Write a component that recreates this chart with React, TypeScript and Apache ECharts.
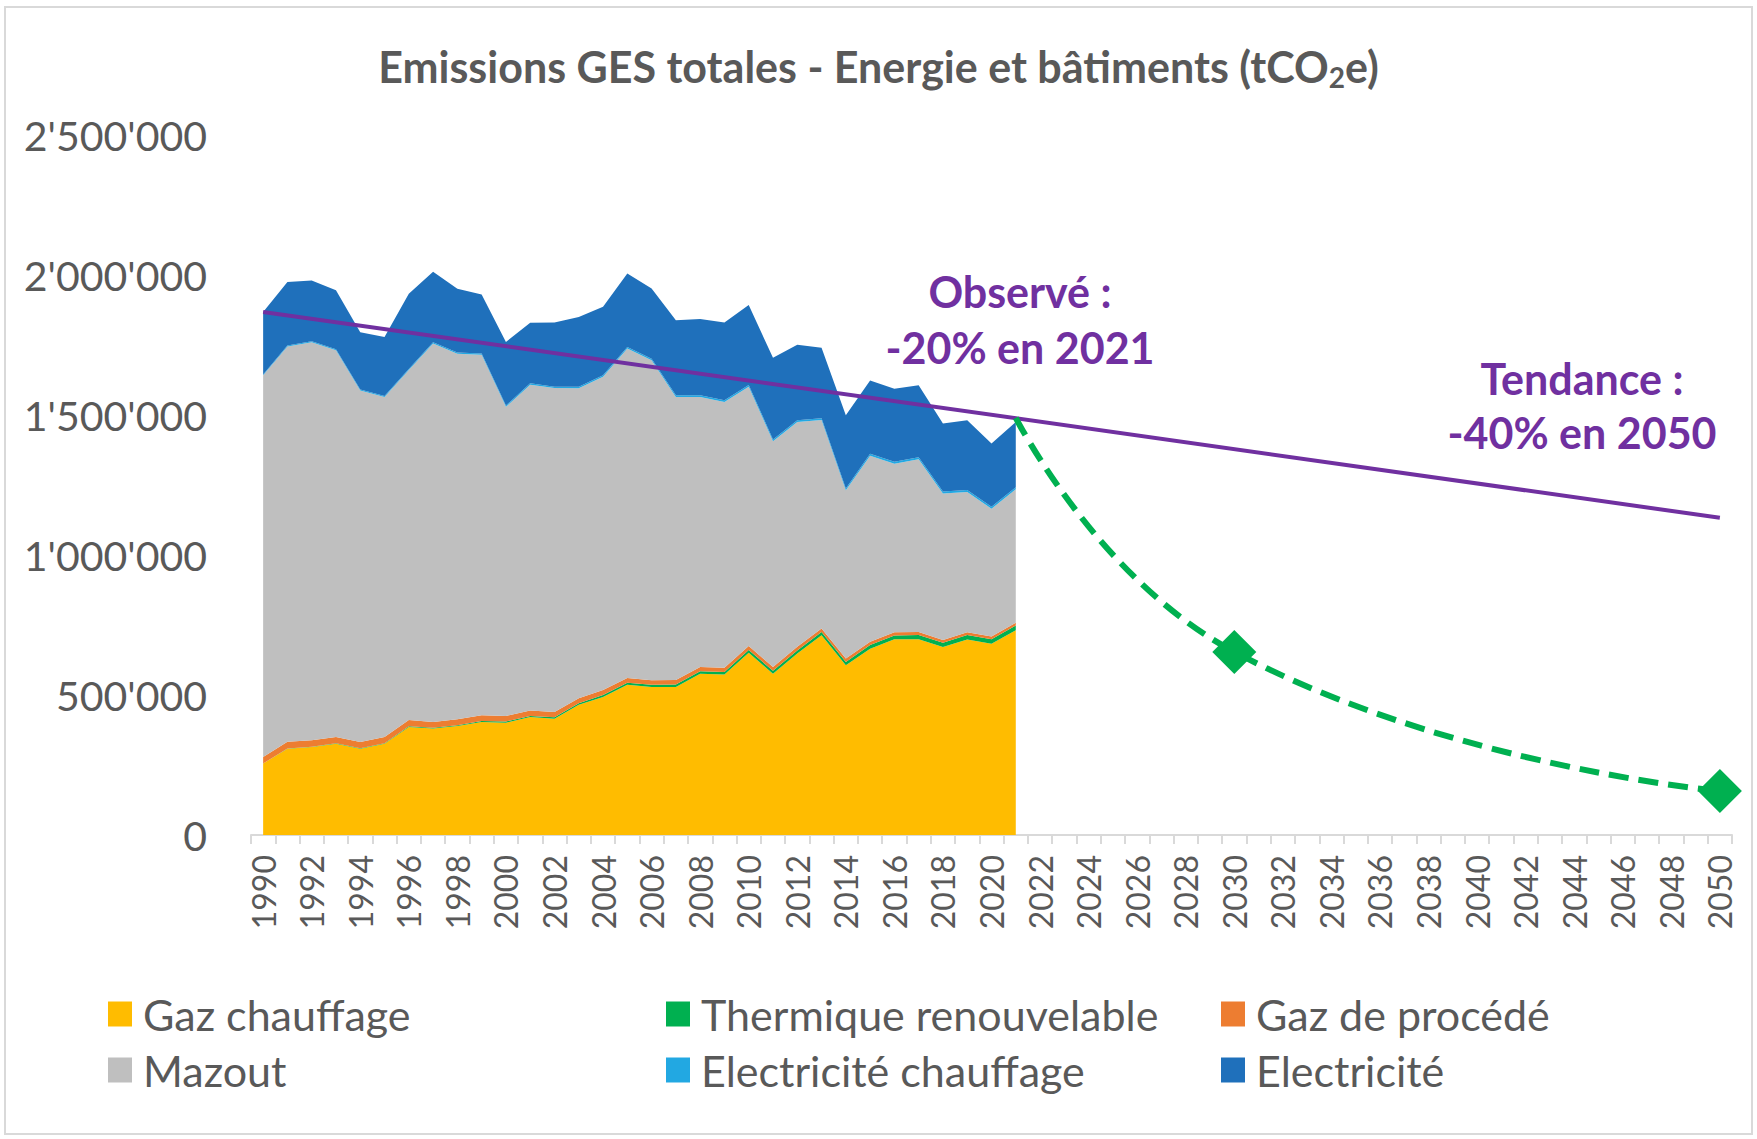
import React, { useEffect, useRef } from "react";
import * as echarts from "echarts";

const years = [
  "1990","1991","1992","1993","1994","1995","1996","1997","1998","1999",
  "2000","2001","2002","2003","2004","2005","2006","2007","2008","2009",
  "2010","2011","2012","2013","2014","2015","2016","2017","2018","2019",
  "2020","2021","2022","2023","2024","2025","2026","2027","2028","2029",
  "2030","2031","2032","2033","2034","2035","2036","2037","2038","2039",
  "2040","2041","2042","2043","2044","2045","2046","2047","2048","2049","2050",
];

// 1990 - 2021 (tCO2e)
const gazChauffage = [255000, 308000, 314000, 326000, 308000, 326000, 386000, 380000, 389000, 404000, 401000, 421000, 415000, 465000, 493000, 537000, 529000, 529000, 576000, 573000, 651000, 576000, 648000, 713000, 606000, 665000, 699000, 699000, 671000, 698000, 683000, 731000];
const thermiqueRenouvelable = [800, 900, 1200, 1400, 1700, 1900, 2400, 2600, 3100, 3400, 4100, 4300, 5200, 5800, 6600, 7100, 7400, 8200, 8600, 9300, 9700, 10400, 10900, 11800, 12100, 13200, 13900, 15100, 15400, 16200, 16300, 17200];
const gazProcede = [23000, 24000, 23000, 23000, 22000, 22000, 22000, 21000, 21000, 20000, 20000, 19000, 19000, 18000, 18000, 17000, 16000, 16000, 15000, 15000, 14000, 14000, 13000, 13000, 12000, 12000, 11000, 11000, 10000, 10000, 10000, 10000];
const mazout = [1363000, 1412000, 1422000, 1381000, 1256000, 1214000, 1250000, 1352000, 1306000, 1288000, 1104000, 1164000, 1157000, 1107000, 1119000, 1176000, 1143000, 1011000, 965000, 949000, 926000, 806000, 803000, 744000, 601000, 664000, 602000, 617000, 523000, 501000, 456000, 477000];
const electriciteChauffage = [3000, 3000, 3500, 3500, 3500, 4000, 4000, 4000, 4500, 4500, 4500, 5000, 5000, 5000, 5500, 5500, 5500, 6000, 6000, 6000, 6000, 6500, 6500, 6500, 6500, 7000, 7000, 7000, 7000, 7000, 7000, 7000];
const electricite = [223000, 227000, 216500, 210500, 204500, 211000, 269000, 252000, 227500, 210500, 227500, 216000, 229000, 249000, 244500, 262500, 250500, 268000, 272000, 278000, 286000, 291500, 269500, 251500, 261500, 262000, 261000, 257000, 243000, 249000, 226000, 233000];

const trendYears = ["1990", "2050"];
const trendValues = [1868000, 1133000];

const projectionYears = ["2021", "2030", "2050"];
const projectionValues = [1490000, 654000, 157000];

const yTicks = { min: 0, max: 2500000, interval: 500000 };

const GREY_TEXT = "#595959";
const FONT = "Lato";

const stackSeries = [
  { name: "Gaz chauffage", data: gazChauffage, color: "#FFBC00" },
  { name: "Thermique renouvelable", data: thermiqueRenouvelable, color: "#00B050" },
  { name: "Gaz de procédé", data: gazProcede, color: "#ED7D31" },
  { name: "Mazout", data: mazout, color: "#BFBFBF" },
  { name: "Electricité chauffage", data: electriciteChauffage, color: "#22A8E2" },
  { name: "Electricité", data: electricite, color: "#1F70BB" },
];

function fmt(v: number): string {
  return String(v).replace(/\B(?=(\d{3})+(?!\d))/g, "'");
}

export default function App() {
  const ref = useRef<HTMLDivElement>(null);

  useEffect(() => {
    if (!ref.current) return;
    const chart = echarts.init(ref.current, undefined, { renderer: "svg" });

    const legendCommon = {
      orient: "vertical" as const,
      icon: "rect",
      itemWidth: 24,
      itemHeight: 25,
      itemGap: 12,
      textStyle: { fontFamily: FONT, fontSize: 43, color: GREY_TEXT, lineHeight: 44, padding: [0, 0, 0, 6] },
      selectedMode: false,
    };

    const annoFont = `bold 43px ${FONT}`;

    const option: any = {
      animation: false,
      backgroundColor: "#ffffff",
      title: {
        text: "Emissions GES totales - Energie et bâtiments (tCO{sub|2}e)",
        left: "center",
        top: 36,
        textStyle: {
          fontFamily: FONT,
          fontSize: 43,
          fontWeight: "bold",
          color: GREY_TEXT,
          lineHeight: 50,
          rich: {
            sub: {
              fontFamily: FONT,
              fontSize: 28,
              fontWeight: "bold",
              color: GREY_TEXT,
              lineHeight: 22,
              verticalAlign: "bottom",
            },
          },
        },
      },
      legend: [
        { ...legendCommon, data: ["Gaz chauffage", "Mazout"], left: 103, top: 987 },
        { ...legendCommon, data: ["Thermique renouvelable", "Electricité chauffage"], left: 661, top: 987 },
        { ...legendCommon, data: ["Gaz de procédé", "Electricité"], left: 1216, top: 987 },
      ],
      grid: { left: 251, right: 25, top: 135, bottom: 304, containLabel: false },
      xAxis: {
        type: "category",
        data: years,
        boundaryGap: true,
        axisLine: { show: true, lineStyle: { color: "#D9D9D9", width: 2 } },
        axisTick: { show: true, interval: 0, length: 9, lineStyle: { color: "#D9D9D9", width: 2 } },
        axisLabel: {
          interval: 1,
          rotate: 90,
          margin: 20,
          fontFamily: FONT,
          fontSize: 32,
          color: GREY_TEXT,
        },
        splitLine: { show: false },
      },
      yAxis: {
        type: "value",
        min: yTicks.min,
        max: yTicks.max,
        interval: yTicks.interval,
        axisLine: { show: false },
        axisTick: { show: false },
        splitLine: { show: false },
        axisLabel: {
          margin: 44,
          fontFamily: FONT,
          fontSize: 41,
          color: GREY_TEXT,
          formatter: (v: number) => fmt(v),
        },
      },
      series: [
        ...stackSeries.map((s) => ({
          name: s.name,
          type: "line",
          stack: "total",
          data: s.data,
          symbol: "none",
          lineStyle: { width: 0 },
          areaStyle: { color: s.color, opacity: 1 },
          itemStyle: { color: s.color },
          z: 2,
        })),
        {
          name: "Tendance",
          type: "line",
          data: trendYears.map((y, i) => [y, trendValues[i]]),
          symbol: "none",
          lineStyle: { color: "#7030A0", width: 4 },
          itemStyle: { color: "#7030A0" },
          z: 5,
        },
        {
          name: "Objectif",
          type: "line",
          smooth: 0.5,
          data: projectionYears.map((y, i) =>
            i === 0
              ? { value: [y, projectionValues[i]], symbol: "none" }
              : { value: [y, projectionValues[i]] }
          ),
          symbol: "diamond",
          symbolSize: 44,
          lineStyle: { color: "#00B050", width: 6, type: [20, 10] },
          itemStyle: { color: "#00B050" },
          z: 6,
        },
      ],
      graphic: [
        {
          type: "rect",
          silent: true,
          shape: { x: 5, y: 7, width: 1747, height: 1127 },
          style: { fill: "none", stroke: "#D9D9D9", lineWidth: 2 },
          z: -10,
        },
        {
          type: "text",
          x: 1020,
          y: 291,
          style: { text: "Observé :", font: annoFont, fill: "#7030A0", textAlign: "center", textVerticalAlign: "middle" },
          z: 10,
        },
        {
          type: "text",
          x: 1020,
          y: 347,
          style: { text: "-20% en 2021", font: annoFont, fill: "#7030A0", textAlign: "center", textVerticalAlign: "middle" },
          z: 10,
        },
        {
          type: "text",
          x: 1582,
          y: 378,
          style: { text: "Tendance :", font: annoFont, fill: "#7030A0", textAlign: "center", textVerticalAlign: "middle" },
          z: 10,
        },
        {
          type: "text",
          x: 1582,
          y: 432,
          style: { text: "-40% en 2050", font: annoFont, fill: "#7030A0", textAlign: "center", textVerticalAlign: "middle" },
          z: 10,
        },
      ],
    };

    chart.setOption(option);
    return () => chart.dispose();
  }, []);

  return (
    <div
      ref={ref}
      style={{ position: "absolute", left: 0, top: 0, width: 1757, height: 1139, background: "#ffffff" }}
    />
  );
}
